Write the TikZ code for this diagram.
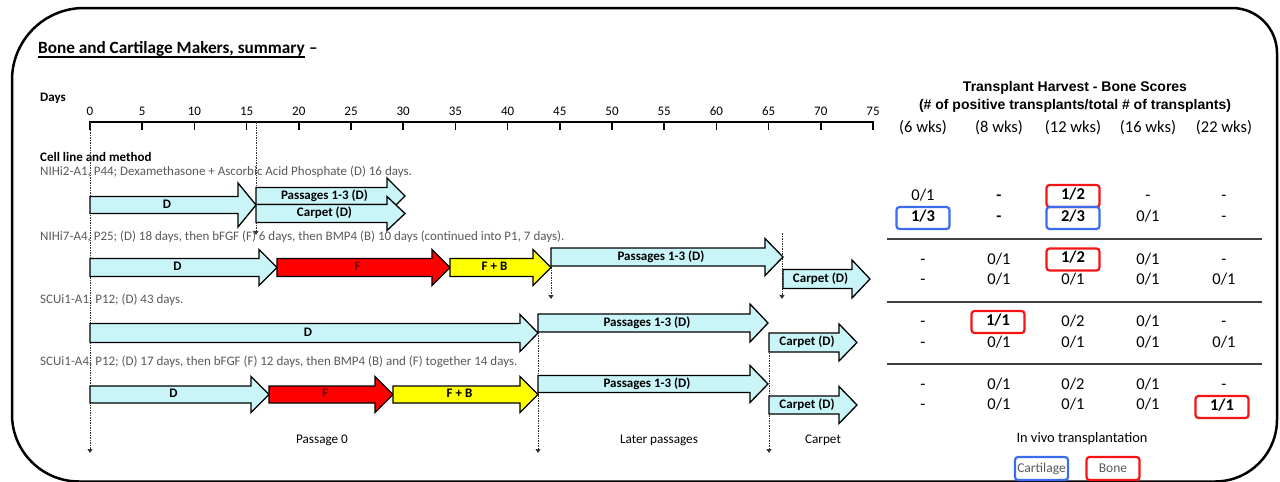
\documentclass[tikz,border=0pt]{standalone}
\usepackage{fontspec}
\setmainfont{Carlito}
\newfontfamily\arialfont{Liberation Sans}
\usetikzlibrary{arrows.meta}
\definecolor{cy}{HTML}{C9F4F8}
\definecolor{descgray}{HTML}{595959}
\definecolor{boxred}{HTML}{F41414}
\definecolor{boxblue}{HTML}{3A6CF0}
\definecolor{fdark}{HTML}{6A0000}
\definecolor{arrred}{HTML}{FF0000}
\definecolor{arryel}{HTML}{FFFF00}
% #1 name, #2 start x, #3 tip x, #4 centre y, #5 fill, #6 label, #7 body half height, #8 head half height
\newcommand\blockarrow[8]{%
  \filldraw[fill=#5, draw=black, line width=1.3pt, line join=miter]
    (#2,#4-#7) -- (#3-18,#4-#7) -- (#3-18,#4-#8) -- (#3,#4) -- (#3-18,#4+#8)
    -- (#3-18,#4+#7) -- (#2,#4+#7) -- cycle;
  \node[arrlbl] (#1) at ({(#2+#3-18)/2+3},#4) {#6};}
\newcommand\tv[5][]{\node[tval,#1] (#2) at (#3,#4) {#5};}
\begin{document}
\begin{tikzpicture}[x=1pt,y=-1pt,
  desc/.style={inner sep=0pt, anchor=base west, text=descgray, font=\fontsize{13}{15}\selectfont},
  bhead/.style={inner sep=0pt, anchor=base west, font=\bfseries\fontsize{13}{15}\selectfont},
  axnum/.style={inner sep=0pt, anchor=base, font=\fontsize{13}{15}\selectfont},
  arrlbl/.style={inner sep=0pt, text height=0.63em, text depth=0pt, font=\bfseries\fontsize{13}{15}\selectfont},
  botlbl/.style={inner sep=0pt, text height=0.63em, text depth=0pt, font=\fontsize{13.2}{15}\selectfont},
  tval/.style={inner sep=0pt, text height=0.63em, text depth=0pt, font=\fontsize{16.5}{19}\selectfont},
  colhead/.style={inner sep=0pt, anchor=base, font=\fontsize{16.5}{19}\selectfont},
  thead/.style={inner sep=0pt, text height=0.716em, text depth=0pt, font=\arialfont\bfseries\fontsize{14}{16}\selectfont},
  rbox/.style={draw=boxred, line width=2.2pt, rounded corners=3pt, minimum width=53pt, minimum height=22pt, font=\bfseries\fontsize{16.5}{19}\selectfont},
  bbox/.style={draw=boxblue, line width=2.2pt, rounded corners=3pt, minimum width=53pt, minimum height=22pt, font=\bfseries\fontsize{16.5}{19}\selectfont},
  vdash/.style={draw=black!80, line width=0.9pt, dash pattern=on 2pt off 1.2pt on 0.6pt off 1.2pt, -{Triangle[length=4pt,width=5pt]}},
  sepline/.style={draw=black!75, line width=1.4pt},
  legtext/.style={text=descgray, font=\fontsize{13.5}{15}\selectfont, minimum width=53pt, minimum height=23pt, line width=2.2pt, rounded corners=3pt, inner sep=0pt}
]
\useasboundingbox (0,0) rectangle (1280,482);
% frame
\draw[line width=2.5pt] (12,250) [rounded corners=72pt] -- (12,8) -- (600,8)
  [rounded corners=45pt] -- (1277,8) -- (1277,250)
  [rounded corners=62pt] -- (1277,481.5) -- (600,481.5)
  [rounded corners=67pt] -- (12,481.5) -- (12,250);
% title
\node[inner sep=0pt, anchor=base west, font=\bfseries\fontsize{17.2}{20}\selectfont] (title) at (38,53) {Bone and Cartilage Makers, summary};
\node[inner sep=0pt, anchor=base west, font=\bfseries\fontsize{17.2}{20}\selectfont] (titledash) at ([xshift=4pt]title.base east) {–};
\draw[line width=1.3pt] ([yshift=-4pt]title.base west) -- ([yshift=-4pt]title.base east);
\node[bhead] (days) at (40,101.5) {Days};
% axis
\draw[line width=1.6pt, line join=miter] (90,129.5) -- (90,122) -- (873,122) -- (873,129.5);
\foreach \d in {0,5,...,75}{
  \pgfmathsetmacro\xx{90+10.44*\d}
  \draw[line width=1.6pt] (\xx,122) -- (\xx,129.5);
  \node[axnum] (n\d) at (\xx,115) {\d};
}
\node[bhead] (cellhead) at (40,161.5) {Cell line and method};
\node[desc] (r1) at (40,175.5) {NIHi2-A1, P44; Dexamethasone + Ascorbic Acid Phosphate (D) 16 days.};
\node[desc] (r2) at (40,240.5) {NIHi7-A4, P25; (D) 18 days, then bFGF (F) 6 days, then BMP4 (B) 10 days (continued into P1, 7 days).};
\node[desc] (r3) at (40,303) {SCUi1-A1, P12; (D) 43 days.};
\node[desc] (r4) at (40,365) {SCUi1-A4, P12; (D) 17 days, then bFGF (F) 12 days, then BMP4 (B) and (F) together 14 days.};
% dashed guide lines
\coordinate (g0a) at (90,122);  \coordinate (g0b) at (90,453);
\coordinate (g1a) at (256,122); \coordinate (g1b) at (256,235);
\coordinate (g2a) at (551,262); \coordinate (g2b) at (551,299);
\coordinate (g3a) at (782,233); \coordinate (g3b) at (782,299);
\coordinate (g4a) at (538,330); \coordinate (g4b) at (538,453);
\coordinate (g5a) at (769,345); \coordinate (g5b) at (769,453);
\foreach \g in {0,...,5}{\draw[vdash] (g\g a) -- (g\g b);}
% row 1
\blockarrow{a1d}{90}{256}{205}{cy}{D}{8.5}{22}
\blockarrow{a1p}{256}{405}{196}{cy}{Passages 1-3 (D)}{8.5}{18}
\blockarrow{a1c}{256}{405}{213.5}{cy}{Carpet (D)}{9}{17}
% row 2
\blockarrow{a2d}{90}{277}{267.5}{cy}{D}{9}{18}
\blockarrow{a2f}{277}{450}{267.5}{arrred}{\textcolor{fdark}{F}}{9}{18}
\blockarrow{a2fb}{450}{551}{267.5}{arryel}{F + B}{9}{18}
\blockarrow{a2p}{551}{783}{257}{cy}{Passages 1-3 (D)}{9}{18.5}
\blockarrow{a2c}{783}{870}{279}{cy}{Carpet (D)}{9.5}{19}
% row 3
\blockarrow{a3d}{90}{538}{333}{cy}{D}{9.5}{18.5}
\blockarrow{a3p}{538}{768}{323}{cy}{Passages 1-3 (D)}{9}{19}
\blockarrow{a3c}{769}{857}{342.5}{cy}{Carpet (D)}{9.5}{18.5}
% row 4
\blockarrow{a4d}{90}{269}{394.5}{cy}{D}{8.5}{18}
\blockarrow{a4f}{269}{393}{394.5}{arrred}{\textcolor{fdark}{F}}{8.5}{18}
\blockarrow{a4fb}{393}{538}{394.5}{arryel}{F + B}{8.5}{18}
\blockarrow{a4p}{538}{768}{384}{cy}{Passages 1-3 (D)}{8.5}{18.5}
\blockarrow{a4c}{769}{857}{405}{cy}{Carpet (D)}{9}{18.5}
% bottom labels
\node[botlbl] (lp0) at (322,440) {Passage 0};
\node[botlbl] (llp) at (659,440) {Later passages};
\node[botlbl] (lcar) at (823,440) {Carpet};
% table header
\node[thead] (th1) at (1075,88) {Transplant Harvest - Bone Scores};
\node[thead] (th2) at (1075,106) {(\# of positive transplants/total \# of transplants)};
\node[colhead] (c1) at (923,132) {(6 wks)};
\node[colhead] (c2) at (999,132) {(8 wks)};
\node[colhead] (c3) at (1073,132) {(12 wks)};
\node[colhead] (c4) at (1148,132) {(16 wks)};
\node[colhead] (c5) at (1224,132) {(22 wks)};
% row 1 values
\tv{v11}{923}{197}{0/1}
\tv[font=\bfseries\fontsize{16.5}{19}\selectfont]{v12}{999}{197}{-}
\tv[rbox]{v13}{1073}{196}{1/2}
\tv{v14}{1148}{197}{-}
\tv{v15}{1224}{197}{-}
\tv[bbox]{w11}{923}{218}{1/3}
\tv[font=\bfseries\fontsize{16.5}{19}\selectfont]{w12}{999}{218}{-}
\tv[bbox]{w13}{1073}{218}{2/3}
\tv{w14}{1148}{218}{0/1}
\tv{w15}{1224}{218}{-}
\draw[sepline] (887,239) -- (1262,239);
% row 2 values
\tv{v21}{923}{261}{-}
\tv{v22}{999}{261}{0/1}
\tv[rbox]{v23}{1073}{259.5}{1/2}
\tv{v24}{1148}{261}{0/1}
\tv{v25}{1224}{261}{-}
\tv{w21}{923}{281}{-}
\tv{w22}{999}{281}{0/1}
\tv{w23}{1073}{281}{0/1}
\tv{w24}{1148}{281}{0/1}
\tv{w25}{1224}{281}{0/1}
\draw[sepline] (887,302) -- (1262,302);
% row 3 values
\tv{v31}{923}{323}{-}
\tv[rbox]{v32}{998}{322}{1/1}
\tv{v33}{1073}{323}{0/2}
\tv{v34}{1148}{323}{0/1}
\tv{v35}{1224}{323}{-}
\tv{w31}{923}{344}{-}
\tv{w32}{999}{344}{0/1}
\tv{w33}{1073}{344}{0/1}
\tv{w34}{1148}{344}{0/1}
\tv{w35}{1224}{344}{0/1}
\draw[sepline] (887,364) -- (1262,364);
% row 4 values
\tv{v41}{923}{386}{-}
\tv{v42}{999}{386}{0/1}
\tv{v43}{1073}{386}{0/2}
\tv{v44}{1148}{386}{0/1}
\tv{v45}{1224}{386}{-}
\tv{w41}{923}{406}{-}
\tv{w42}{999}{406}{0/1}
\tv{w43}{1073}{406}{0/1}
\tv{w44}{1148}{406}{0/1}
\tv[rbox]{w45}{1222}{407}{1/1}
% legend
\node[botlbl, font=\fontsize{14.4}{16}\selectfont] (invivo) at (1082,439) {In vivo transplantation};
\node[legtext, draw=boxblue] (legc) at (1041.5,468.5) {Cartilage};
\node[legtext, draw=boxred] (legb) at (1113,468.5) {Bone};
\end{tikzpicture}
\end{document}
